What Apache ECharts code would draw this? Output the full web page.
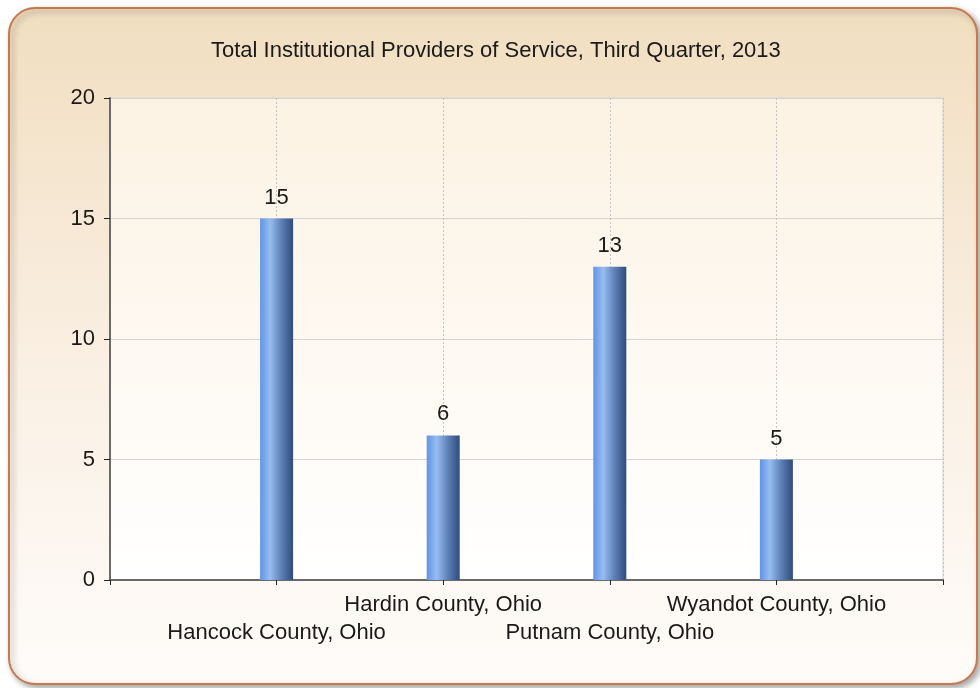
<!DOCTYPE html>
<html><head><meta charset="utf-8">
<script src="https://cdn.jsdelivr.net/npm/echarts@6/dist/echarts.min.js"></script>
<style>html,body{margin:0;padding:0;background:#fff}#c{width:980px;height:688px}</style>
</head><body><div id="c"></div>
<script>
const titleText = 'Total Institutional Providers of Service, Third Quarter, 2013';
const categories = ['Hancock County, Ohio', 'Hardin County, Ohio', 'Putnam County, Ohio', 'Wyandot County, Ohio'];
const values = [15, 6, 13, 5];
const positions = [1, 2, 3, 4];
const yTicks = [0, 5, 10, 15, 20];

const chart = echarts.init(document.getElementById('c'));
const FONT = 'Liberation Sans';
chart.setOption({
  animation: false,
  graphic: [{
    type: 'rect', z: -10, left: 8, top: 7,
    shape: { width: 968, height: 676, r: 26 },
    style: {
      fill: new echarts.graphic.LinearGradient(0, 0, 0, 1, [
        { offset: 0, color: '#f1dec0' },
        { offset: 0.55, color: '#faf0e4' },
        { offset: 1, color: '#fefcfa' }
      ]),
      stroke: '#c8784a', lineWidth: 2,
      shadowBlur: 6, shadowOffsetX: 3, shadowOffsetY: 3, shadowColor: 'rgba(0,0,0,0.35)'
    }
  }],
  title: {
    text: titleText, left: 206, top: 35,
    textStyle: { fontFamily: FONT, fontSize: 22, fontWeight: 'normal', color: '#1a1a1a' }
  },
  grid: {
    left: 110, right: 37, top: 98, bottom: 108, show: true,
    borderColor: '#d4d4d4', borderWidth: 1,
    backgroundColor: new echarts.graphic.LinearGradient(0, 0, 0, 1, [
      { offset: 0, color: '#fcf2e3' },
      { offset: 1, color: '#ffffff' }
    ])
  },
  xAxis: {
    type: 'value', min: 0, max: 5, interval: 1,
    axisLine: { show: true, lineStyle: { color: '#6a6a6a', width: 2 } },
    axisTick: { show: true, length: 5, lineStyle: { color: '#222', width: 1 } },
    splitLine: { show: true, lineStyle: { color: '#c4c4c4', type: [2, 2] } },
    axisLabel: {
      margin: 11, showMinLabel: true, showMaxLabel: true,
      fontFamily: FONT, fontSize: 22, color: '#1a1a1a', lineHeight: 28,
      formatter: function (v) {
        const i = positions.indexOf(v);
        if (i < 0) return '';
        return (i % 2 === 0) ? '\n' + categories[i] : categories[i] + '\n';
      }
    }
  },
  yAxis: {
    type: 'value', min: yTicks[0], max: yTicks[yTicks.length - 1], interval: 5,
    axisLine: { show: true, lineStyle: { color: '#6a6a6a', width: 2 } },
    axisTick: { show: true, length: 6, lineStyle: { color: '#222', width: 1 } },
    splitLine: { show: true, lineStyle: { color: '#d4d4d4', width: 1 } },
    axisLabel: { margin: 15, fontFamily: FONT, fontSize: 22, color: '#1a1a1a' }
  },
  series: [{
    type: 'bar',
    barWidth: 33,
    data: positions.map((p, i) => [p, values[i]]),
    itemStyle: {
      color: new echarts.graphic.LinearGradient(0, 0, 1, 0, [
        { offset: 0, color: '#5f94e6' },
        { offset: 0.3, color: '#98bdf0' },
        { offset: 0.65, color: '#5c7fb6' },
        { offset: 1, color: '#2f4c7c' }
      ])
    },
    label: {
      show: true, position: 'top', distance: 10,
      fontFamily: FONT, fontSize: 22, color: '#1a1a1a'
    }
  }]
});
</script></body></html>
